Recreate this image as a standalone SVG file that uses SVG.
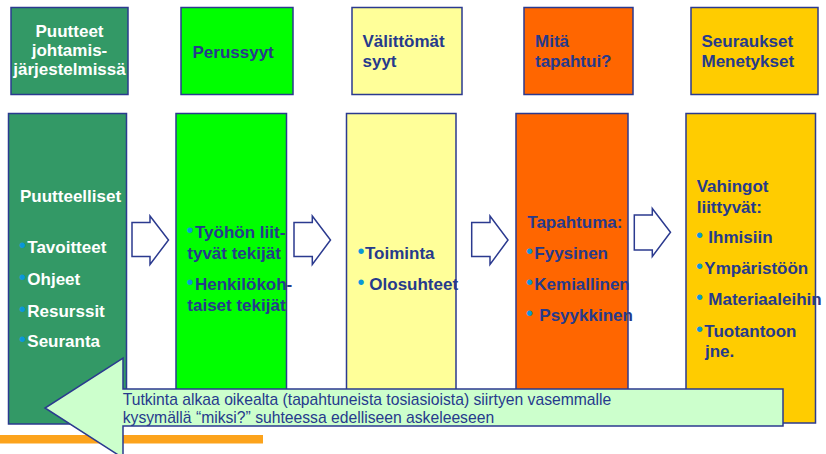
<svg xmlns="http://www.w3.org/2000/svg" width="826" height="454" viewBox="0 0 826 454">
<style>
.bx{stroke:#2B3A8F;stroke-width:1.5}
.t{font-family:"Liberation Sans",Arial,sans-serif;font-weight:bold;font-size:17px;fill:#263A8C}
.w{fill:#FFFFFF}
.b{fill:#0A97D9;font-size:20px;font-weight:normal}
.ba{fill:#FFFFFF;stroke:#2B3A8F;stroke-width:1.5;stroke-linejoin:miter}
.n{font-family:"Liberation Sans",Arial,sans-serif;font-size:15.7px;fill:#263A8C}
</style>
<rect width="826" height="454" fill="#FFFFFF"/>
<g id="head1"><rect class="bx" x="11" y="7.5" width="117" height="87" fill="#339966"/>
<text class="t w" text-anchor="middle"><tspan x="69.5" y="37">Puutteet</tspan><tspan x="69.5" y="56">johtamis-</tspan><tspan x="69.5" y="75">järjestelmissä</tspan></text></g>
<g id="head2"><rect class="bx" x="181" y="7.5" width="112" height="87" fill="#00FF00"/>
<text class="t" x="192.5" y="58">Perussyyt</text></g>
<g id="head3"><rect class="bx" x="352" y="7.5" width="110" height="87" fill="#FFFF99"/>
<text class="t"><tspan x="362.5" y="46.5">Välittömät</tspan><tspan x="362.5" y="66.5">syyt</tspan></text></g>
<g id="head4"><rect class="bx" x="524" y="7.5" width="109" height="87" fill="#FF6600"/>
<text class="t"><tspan x="535" y="46.5">Mitä</tspan><tspan x="535" y="66.5">tapahtui?</tspan></text></g>
<g id="head5"><rect class="bx" x="691" y="7.5" width="127" height="87" fill="#FFCC00"/>
<text class="t"><tspan x="701.5" y="46.5">Seuraukset</tspan><tspan x="701.5" y="66.5">Menetykset</tspan></text></g>

<g id="col1"><rect class="bx" x="8.5" y="113.5" width="118" height="310.5" fill="#339966"/></g>
<g id="col2"><rect class="bx" x="176" y="113.5" width="110.5" height="310.5" fill="#00FF00"/></g>
<g id="col3"><rect class="bx" x="346.5" y="113.5" width="109.5" height="310.5" fill="#FFFF99"/></g>
<g id="col4"><rect class="bx" x="516" y="113.5" width="112" height="310.5" fill="#FF6600"/></g>
<g id="col5"><rect class="bx" x="686" y="113.5" width="129.5" height="309.5" fill="#FFCC00"/></g>

<g id="connectors">
<polygon class="ba" points="132,222.5 150,222.5 150,216 168.5,240 150,264.5 150,256.5 132,256.5"/>
<polygon class="ba" points="294,222.5 312.3,222.5 312.3,216 330.5,240 312.3,264.5 312.3,256.5 294,256.5"/>
<polygon class="ba" points="471.7,222.5 490,222.5 490,216 508,240 490,264.5 490,256.5 471.7,256.5"/>
<polygon class="ba" points="634.3,215 652.3,215 652.3,208.5 670.5,232.3 652.3,256.5 652.3,250 634.3,250"/>
</g>

<g id="col1-text">
<text class="t w" x="20" y="201.7">Puutteelliset</text>
<text class="t w" y="253.3"><tspan class="b" x="19" dy="-1">•</tspan><tspan x="27.3" dy="1">Tavoitteet</tspan></text>
<text class="t w" y="285"><tspan class="b" x="19" dy="-1">•</tspan><tspan x="27.3" dy="1">Ohjeet</tspan></text>
<text class="t w" y="316.5"><tspan class="b" x="19" dy="-1">•</tspan><tspan x="27.3" dy="1">Resurssit</tspan></text>
<text class="t w" y="347.3"><tspan class="b" x="19" dy="-1">•</tspan><tspan x="27.3" dy="1">Seuranta</tspan></text>
</g>
<g id="col2-text">
<text class="t" y="238.3"><tspan class="b" x="186.5" dy="-1">•</tspan><tspan x="195" dy="1">Työhön liit-</tspan></text>
<text class="t" x="187.3" y="259.3">tyvät tekijät</text>
<text class="t" y="290"><tspan class="b" x="186.5" dy="-1">•</tspan><tspan x="195" dy="1">Henkilökoh-</tspan></text>
<text class="t" x="187.3" y="310.7">taiset tekijät</text>
</g>
<g id="col3-text">
<text class="t" y="259.3"><tspan class="b" x="357.5" dy="-1">•</tspan><tspan x="365" dy="1">Toiminta</tspan></text>
<text class="t" y="290"><tspan class="b" x="357.5" dy="-1">•</tspan><tspan x="369.3" dy="1">Olosuhteet</tspan></text>
</g>
<g id="col4-text">
<text class="t" x="527.3" y="228.3">Tapahtuma:</text>
<text class="t" y="259.3"><tspan class="b" x="526" dy="-1">•</tspan><tspan x="534.3" dy="1">Fyysinen</tspan></text>
<text class="t" y="290"><tspan class="b" x="526" dy="-1">•</tspan><tspan x="534.3" dy="1">Kemiallinen</tspan></text>
<text class="t" y="320.7"><tspan class="b" x="526" dy="-1">•</tspan><tspan x="539.3" dy="1">Psyykkinen</tspan></text>
</g>
<g id="col5-text">
<text class="t"><tspan x="696.7" y="191.7">Vahingot</tspan><tspan x="696.7" y="212.7">liittyvät:</tspan></text>
<text class="t" y="242.7"><tspan class="b" x="696" dy="-1">•</tspan><tspan x="708.3" dy="1">Ihmisiin</tspan></text>
<text class="t" y="274"><tspan class="b" x="696" dy="-1">•</tspan><tspan x="704.3" dy="1">Ympäristöön</tspan></text>
<text class="t" y="305"><tspan class="b" x="696" dy="-1">•</tspan><tspan x="708.3" dy="1">Materiaaleihin</tspan></text>
<text class="t" y="337.3"><tspan class="b" x="696" dy="-1">•</tspan><tspan x="704.3" dy="1">Tuotantoon</tspan></text>
<text class="t" x="705" y="357.3">jne.</text>
</g>

<rect x="0" y="435" width="263" height="8.5" fill="#FCA31C"/>
<g id="back-arrow">
<polygon points="783,389 123,389 123,358 45,408 123,458 123,426 783,426" fill="#CCFFCC" stroke="#2B3A8F" stroke-width="1.5"/>
<text class="n"><tspan x="122.7" y="405">Tutkinta alkaa oikealta (tapahtuneista tosiasioista) siirtyen vasemmalle</tspan><tspan x="122.7" y="422.7">kysymällä “miksi?” suhteessa edelliseen askeleeseen</tspan></text>
</g>
</svg>
